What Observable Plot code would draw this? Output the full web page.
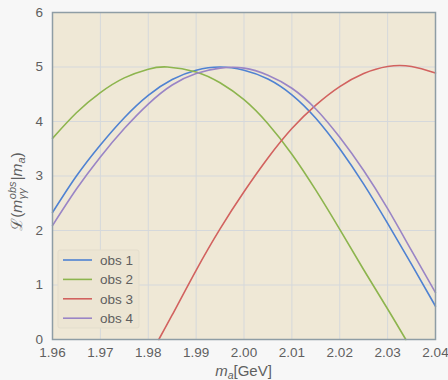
<!DOCTYPE html>
<html><head><meta charset="utf-8">
<script src="https://cdn.jsdelivr.net/npm/d3@7"></script>
<script src="https://cdn.jsdelivr.net/npm/@observablehq/plot@0.6"></script>
<style>
body{margin:0;background:#f7f7f7;}
#chart svg{display:block;}
</style>
</head><body><div id="chart"></div>
<script>
// ---- data ----
const seriesNames = ["obs 1", "obs 2", "obs 3", "obs 4"];
const seriesColors = ["#4f82d2", "#8db54e", "#d2625f", "#9a85c6"];

const massGrid = [1.96,1.965,1.97,1.975,1.98,1.985,1.99,1.995,2.00,2.005,2.01,2.015,2.02,2.025,2.03,2.035,2.04];
const obs1 = [2.33,3.00,3.57,4.07,4.48,4.77,4.94,5.00,4.94,4.78,4.49,4.06,3.50,2.85,2.13,1.38,0.61];
const obs4 = [2.09,2.76,3.35,3.87,4.32,4.67,4.88,4.98,4.98,4.85,4.61,4.23,3.71,3.10,2.40,1.63,0.86];

const obs2Mass = [1.96,1.965,1.97,1.975,1.98,1.984,1.99,1.995,2.00,2.005,2.01,2.015,2.02,2.025,2.03,2.0338];
const obs2 = [3.69,4.16,4.53,4.80,4.96,5.00,4.91,4.71,4.40,3.96,3.40,2.74,2.02,1.28,0.56,0];

const obs3Mass = [1.9822,1.985,1.99,1.995,2.00,2.005,2.01,2.015,2.02,2.025,2.03,2.035,2.04];
const obs3 = [0,0.45,1.27,2.03,2.71,3.33,3.87,4.30,4.64,4.88,5.01,5.01,4.89];

const xTicks = [1.96,1.97,1.98,1.99,2.00,2.01,2.02,2.03,2.04];
const yTicks = [0,1,2,3,4,5,6];

// ---- build table ----
const table = [];
[[massGrid, obs1, "obs 1"], [obs2Mass, obs2, "obs 2"], [obs3Mass, obs3, "obs 3"], [massGrid, obs4, "obs 4"]]
  .forEach(([ms, vs, name]) => ms.forEach((m, i) => table.push({m, v: vs[i], series: name})));

const font = "'Liberation Sans', Arial, sans-serif";
const textColor = "#5f5f5f";

const chart = Plot.plot({
  width: 448, height: 380,
  marginLeft: 52, marginRight: 13, marginTop: 12, marginBottom: 41,
  style: {background: "transparent", fontFamily: font, color: textColor},
  x: {domain: [1.96, 2.04]},
  y: {domain: [0, 6]},
  color: {domain: seriesNames, range: seriesColors},
  marks: [
    Plot.frame({fill: "#efe8d6", stroke: null}),
    Plot.gridX(xTicks, {stroke: "#d5d8db", strokeOpacity: 1, strokeWidth: 1}),
    Plot.gridY(yTicks, {stroke: "#d5d8db", strokeOpacity: 1, strokeWidth: 1}),
    Plot.axisX(xTicks, {tickSize: 0, tickPadding: 7.5, tickFormat: d3.format(".2f"), label: null, fontSize: 13.5, fill: textColor}),
    Plot.axisY(yTicks, {tickSize: 0, tickPadding: 9.5, tickFormat: d3.format("d"), label: null, fontSize: 13.5, fill: textColor}),
    Plot.line(table, {x: "m", y: "v", z: "series", stroke: "series", curve: "natural", strokeWidth: 1.6}),
    Plot.frame({stroke: "#8e9da5", strokeWidth: 1.5})
  ]
});
document.getElementById("chart").appendChild(chart);

// ---- labels and legend ----
const svg = d3.select(chart);
const xs = chart.scale("x"), ys = chart.scale("y");
const cx = (xs.range[0] + xs.range[1]) / 2;

// x label: m_a[GeV]
const xl = svg.append("text")
  .attr("x", cx).attr("y", 376)
  .attr("text-anchor", "middle")
  .style("font-family", font).style("font-size", "15px").attr("fill", textColor);
xl.append("tspan").style("font-style", "italic").text("m");
xl.append("tspan").style("font-style", "italic").style("font-size", "10.5px").attr("dy", 3).text("a");
xl.append("tspan").attr("dy", -3).text("[GeV]");

// y label: L(m_γγ^obs | m_a)
const g = svg.append("g").attr("transform", `translate(22,${(ys.range[0] + ys.range[1]) / 2 + 16}) rotate(-90)`)
  .attr("text-anchor", "start")
  .style("font-family", font).attr("fill", textColor);
let pos = 0;
const pieces = [];
function piece(txt, opts) {
  const t = g.append("text").attr("x", pos).attr("y", opts.dy || 0)
    .attr("text-anchor", "start")
    .style("font-size", (opts.size || 15.5) + "px")
    .style("font-style", opts.italic ? "italic" : "normal").text(txt);
  const w = t.node().getComputedTextLength();
  pieces.push(t);
  return w;
}
pos += piece("ℒ(", {});
pos += piece("m", {italic: true}) + 0.5;
const wSup = piece("obs", {size: 11, dy: -6.5, italic: true});
const wSub = piece("γγ", {size: 11, dy: 4, italic: true});
pos += Math.max(wSup, wSub) + 1;
pos += piece("|", {});
pos += piece("m", {italic: true});
pos += piece("a", {size: 11, dy: 3, italic: true});
pos += piece(")", {});
pieces.forEach(t => t.attr("x", +t.attr("x") - pos / 2));

// legend
const lg = svg.append("g").attr("text-anchor", "start");
lg.append("rect").attr("x", 58).attr("y", 250).attr("width", 81).attr("height", 78)
  .attr("rx", 2).attr("fill", "#ece5d3").attr("stroke", "#e3ddcc").attr("stroke-width", 1);
seriesNames.forEach((name, i) => {
  const y = 260 + i * 19.4;
  lg.append("line").attr("x1", 63).attr("x2", 92).attr("y1", y).attr("y2", y)
    .attr("stroke", seriesColors[i]).attr("stroke-width", 1.6);
  lg.append("text").attr("x", 100).attr("y", y).attr("dy", "0.35em")
    .attr("text-anchor", "start")
    .style("font-family", font).style("font-size", "13.5px").attr("fill", textColor).text(name);
});
</script>
</body></html>
